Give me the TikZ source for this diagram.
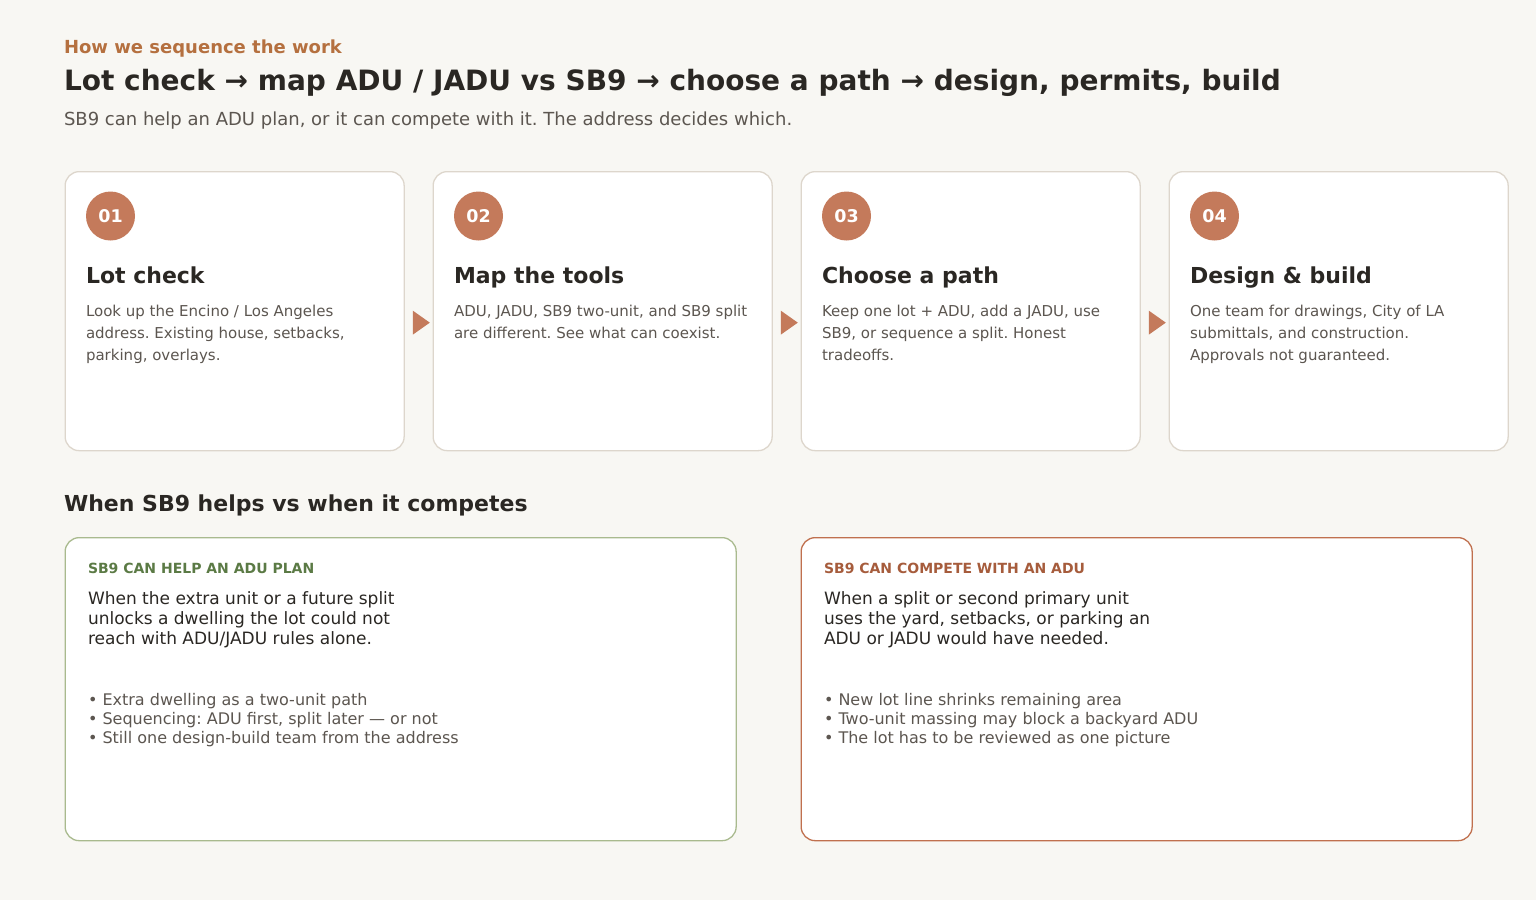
\documentclass[tikz,border=0pt]{standalone}
\usepackage{fontspec}
\setmainfont{DejaVu Sans}
\usetikzlibrary{calc}
\definecolor{bg}{HTML}{F8F7F3}
\definecolor{eyebrow}{HTML}{B5703F}
\definecolor{ink}{HTML}{2A2723}
\definecolor{muted}{HTML}{5C5650}
\definecolor{cardline}{HTML}{DDD6CC}
\definecolor{accent}{HTML}{C47A5B}
\definecolor{greenline}{HTML}{A9BA8E}
\definecolor{greentext}{HTML}{5B7A45}
\definecolor{rustline}{HTML}{C0704E}
\definecolor{rusttext}{HTML}{A65C3C}
\newcommand{\fs}[2]{\fontsize{#1}{#2}\selectfont}
\frenchspacing
\begin{document}
\begin{tikzpicture}[x=1pt,y=-1pt,
  txt/.style={anchor=base west, inner sep=0pt, outer sep=0pt},
  card/.style={draw=cardline, line width=1.3pt, fill=white, rounded corners=14pt, anchor=north west, minimum width=339pt, minimum height=279pt, inner sep=0pt},
  numdot/.style={circle, fill=accent, minimum size=49pt, inner sep=0pt},
  cardtitle/.style={txt, text=ink, font=\fs{22}{26}\bfseries},
  cardbody/.style={txt, text=muted},
  flow/.style={fill=accent},
  panel/.style={line width=1.3pt, fill=white, rounded corners=14pt, anchor=north west, minimum width=671pt, minimum height=303pt, inner sep=0pt},
  plabel/.style={txt, font=\fs{14}{16}\bfseries},
  plead/.style={txt, text=ink},
  pbullets/.style={txt, text=muted}
]
\useasboundingbox (0,0) rectangle (1536,900);
\fill[bg] (0,0) rectangle (1536,900);

\node[txt, text=eyebrow, font=\fs{18}{20}\bfseries] (eyebrow) at (64,53) {How we sequence the work};
\node[txt, text=ink, font=\fs{28}{34}\bfseries] (title) at (64,90) {Lot check → map ADU / JADU vs SB9 → choose a path → design, permits, build};
\node[txt, text=muted, font=\fs{18}{20}] (subtitle) at (64,125) {SB9 can help an ADU plan, or it can compete with it. The address decides which.};

% cards
\foreach \i/\x/\n/\t/\b in {
 1/64.5/01/Lot check/{Look up the Encino / Los Angeles\\address. Existing house, setbacks,\\parking, overlays.},
 2/432.5/02/Map the tools/{ADU, JADU, SB9 two-unit, and SB9 split\\are different. See what can coexist.},
 3/800.5/03/Choose a path/{Keep one lot + ADU, add a JADU, use\\SB9, or sequence a split. Honest\\tradeoffs.},
 4/1168.5/04/Design \& build/{One team for drawings, City of LA\\submittals, and construction.\\Approvals not guaranteed.}}{
  \node[card] (c\i) at (\x,171) {};
  \node[numdot] (n\i) at ($(c\i.north west)+(46,45)$) {};
  \node[txt, text=white, font=\fs{17.5}{18}\bfseries, anchor=base] (nt\i) at ($(n\i.center)+(0,6)$) {\n};
  \node[cardtitle] (t\i) at ($(c\i.north west)+(21.5,112)$) {\t};
  \node[cardbody] (b\i) at ($(c\i.north west)+(21.5,145.5)$) {\parbox[t]{320pt}{\fs{15}{22}\b}};
}
\foreach \a/\b in {1/2,2/3,3/4}{
  \fill[flow] ($(c\a.east)+(8,-0.5)$) -- ($(c\a.east)+(25,11.5)$) -- ($(c\a.east)+(8,23.5)$) -- cycle;
}

\node[txt, text=ink, font=\fs{22}{26}\bfseries] (section) at (64,511) {When SB9 helps vs when it competes};

% panels
\node[panel, draw=greenline] (p1) at (64.5,537) {};
\node[panel, draw=rustline] (p2) at (800.5,537) {};

\node[plabel, text=greentext] (l1) at ($(p1.north west)+(23.5,36)$) {SB9 CAN HELP AN ADU PLAN};
\node[plead] (d1) at ($(p1.north west)+(23.5,67.5)$) {\parbox[t]{400pt}{\fs{17}{20}When the extra unit or a future split\\unlocks a dwelling the lot could not\\reach with ADU/JADU rules alone.}};
\node[pbullets] (u1) at ($(p1.north west)+(23.5,168)$) {\parbox[t]{500pt}{\fs{16}{19}• Extra dwelling as a two-unit path\\• Sequencing: ADU first, split later — or not\\• Still one design-build team from the address}};

\node[plabel, text=rusttext] (l2) at ($(p2.north west)+(23.5,36)$) {SB9 CAN COMPETE WITH AN ADU};
\node[plead] (d2) at ($(p2.north west)+(23.5,67.5)$) {\parbox[t]{400pt}{\fs{17}{20}When a split or second primary unit\\uses the yard, setbacks, or parking an\\ADU or JADU would have needed.}};
\node[pbullets] (u2) at ($(p2.north west)+(23.5,168)$) {\parbox[t]{500pt}{\fs{16}{19}• New lot line shrinks remaining area\\• Two-unit massing may block a backyard ADU\\• The lot has to be reviewed as one picture}};
\end{tikzpicture}
\end{document}
